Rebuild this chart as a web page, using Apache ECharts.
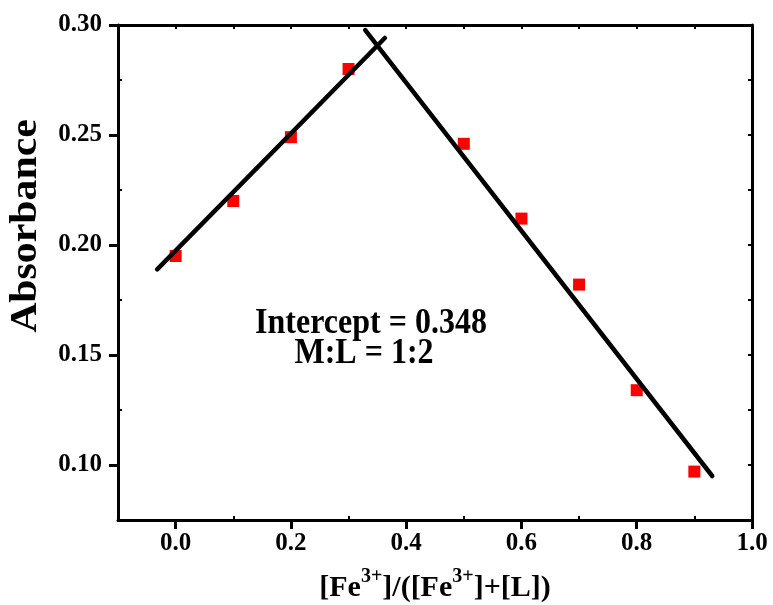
<!DOCTYPE html>
<html>
<head>
<meta charset="utf-8">
<script src="https://cdn.jsdelivr.net/npm/echarts@6/dist/echarts.min.js"></script>
<style>
  html, body { margin: 0; padding: 0; background: #ffffff; }
  #chart { width: 773px; height: 605px; }
</style>
</head>
<body>
<div id="chart"></div>
<script>
// Job's plot: absorbance against Fe3+ mole fraction
const moleFraction = [0.0, 0.1, 0.2, 0.3, 0.5, 0.6, 0.7, 0.8, 0.9];
const absorbance = [0.195, 0.220, 0.249, 0.280, 0.246, 0.212, 0.182, 0.134, 0.097];

// Linear fits of the two branches (end points)
const risingFitX = [-0.032, 0.363];
const risingFitY = [0.1889, 0.2941];
const fallingFitX = [0.329, 0.931];
const fallingFitY = [0.2977, 0.0950];

// Axis ticks
const xMajorTicks = [0.0, 0.2, 0.4, 0.6, 0.8, 1.0];
const xMinorTicks = [-0.1, 0.1, 0.3, 0.5, 0.7, 0.9];
const xTopTicks = [0.0, 0.1, 0.2, 0.3, 0.4, 0.5, 0.6, 0.7, 0.8, 0.9];
const yMajorTicks = [0.10, 0.15, 0.20, 0.25, 0.30];
const yMinorTicks = [0.125, 0.175, 0.225, 0.275];
const yRightTicks = [0.10, 0.125, 0.15, 0.175, 0.20, 0.225, 0.25, 0.275];

const yTitle = 'Absorbance';
const annotation = ['Intercept = 0.348', 'M:L = 1:2'];

const FONT = "'Liberation Serif', 'Times New Roman', serif";
const X_MIN = -0.1, X_MAX = 1.0, Y_MIN = 0.075, Y_MAX = 0.30;
const gridBox = { left: 118, right: 21, top: 25, bottom: 85, containLabel: false, outerBoundsMode: 'none' };

const pairs = (xs, ys) => xs.map((x, i) => [x, ys[i]]);

const chart = echarts.init(document.getElementById('chart'), null, { renderer: 'canvas' });

const frameLine = { show: true, onZero: false, lineStyle: { color: '#000', width: 3 } };
const noLine = { show: false, onZero: false };

chart.setOption({
  backgroundColor: '#ffffff',
  animation: false,
  grid: [
    Object.assign({}, gridBox),
    Object.assign({}, gridBox)
  ],
  xAxis: [
    {
      gridIndex: 0, type: 'value', position: 'bottom',
      min: X_MIN, max: X_MAX,
      axisLine: frameLine,
      axisTick: { show: true, inside: false, length: 9, lineStyle: { width: 3, color: '#000' }, customValues: xMajorTicks },
      axisLabel: {
        show: true, margin: 11, color: '#000', fontFamily: FONT, fontWeight: 'bold', fontSize: 25,
        customValues: xMajorTicks, formatter: v => v.toFixed(1)
      },
      splitLine: { show: false },
      name: '{n|[Fe}{s|3+}{n|]/([Fe}{s|3+}{n|]+[L])}',
      nameLocation: 'middle', nameGap: 47,
      nameTextStyle: {
        rich: {
          n: { fontFamily: FONT, fontWeight: 'bold', fontSize: 30, color: '#000', verticalAlign: 'bottom', lineHeight: 36 },
          s: { fontFamily: FONT, fontWeight: 'bold', fontSize: 20, color: '#000', verticalAlign: 'top', lineHeight: 36, padding: [0, 0, 16, 0] }
        }
      }
    },
    {
      gridIndex: 0, type: 'value', position: 'top',
      min: X_MIN, max: X_MAX,
      axisLine: frameLine,
      axisTick: { show: true, inside: true, length: 4, lineStyle: { width: 2, color: '#000' }, customValues: xTopTicks },
      axisLabel: { show: false },
      splitLine: { show: false }
    },
    {
      gridIndex: 1, type: 'value', position: 'bottom',
      min: X_MIN, max: X_MAX,
      axisLine: noLine,
      axisTick: { show: true, inside: true, length: 4, lineStyle: { width: 2, color: '#000' }, customValues: xMinorTicks },
      axisLabel: { show: false },
      splitLine: { show: false }
    }
  ],
  yAxis: [
    {
      gridIndex: 0, type: 'value', position: 'left',
      min: Y_MIN, max: Y_MAX,
      axisLine: frameLine,
      axisTick: { show: true, inside: false, length: 9, lineStyle: { width: 3, color: '#000' }, customValues: yMajorTicks },
      axisLabel: {
        show: true, margin: 16, color: '#000', fontFamily: FONT, fontWeight: 'bold', fontSize: 25,
        customValues: yMajorTicks, formatter: v => v.toFixed(2)
      },
      splitLine: { show: false }
    },
    {
      gridIndex: 0, type: 'value', position: 'right',
      min: Y_MIN, max: Y_MAX,
      axisLine: frameLine,
      axisTick: { show: true, inside: true, length: 4, lineStyle: { width: 2, color: '#000' }, customValues: yRightTicks },
      axisLabel: { show: false },
      splitLine: { show: false }
    },
    {
      gridIndex: 1, type: 'value', position: 'left',
      min: Y_MIN, max: Y_MAX,
      axisLine: noLine,
      axisTick: { show: true, inside: true, length: 4, lineStyle: { width: 2, color: '#000' }, customValues: yMinorTicks },
      axisLabel: { show: false },
      splitLine: { show: false }
    }
  ],
  graphic: [
    {
      // vertical axis title, reading bottom to top
      type: 'text', x: 26, y: 226, rotation: Math.PI / 2, scaleX: 1.1, z: 10,
      style: { text: yTitle, fontFamily: FONT, fontWeight: 'bold', fontSize: 38, fill: '#000', align: 'center', verticalAlign: 'middle' }
    },
    {
      type: 'text', x: 371, y: 324, scaleY: 1.1, z: 10,
      style: { text: annotation[0], fontFamily: FONT, fontWeight: 'bold', fontSize: 32, fill: '#000', align: 'center', verticalAlign: 'middle' }
    },
    {
      type: 'text', x: 364, y: 354, scaleY: 1.1, z: 10,
      style: { text: annotation[1], fontFamily: FONT, fontWeight: 'bold', fontSize: 32, fill: '#000', align: 'center', verticalAlign: 'middle' }
    }
  ],
  series: [
    {
      name: 'Absorbance', type: 'scatter', xAxisIndex: 0, yAxisIndex: 0,
      symbol: 'rect', symbolSize: 12, z: 3,
      itemStyle: { color: '#ff0000', opacity: 1 },
      data: pairs(moleFraction, absorbance)
    },
    {
      name: 'Rising fit', type: 'line', xAxisIndex: 0, yAxisIndex: 0,
      showSymbol: false, z: 4,
      lineStyle: { color: '#000', width: 4.5, cap: 'round' },
      data: pairs(risingFitX, risingFitY)
    },
    {
      name: 'Falling fit', type: 'line', xAxisIndex: 0, yAxisIndex: 0,
      showSymbol: false, z: 4,
      lineStyle: { color: '#000', width: 4.5, cap: 'round' },
      data: pairs(fallingFitX, fallingFitY)
    }
  ]
});
</script>
</body>
</html>
